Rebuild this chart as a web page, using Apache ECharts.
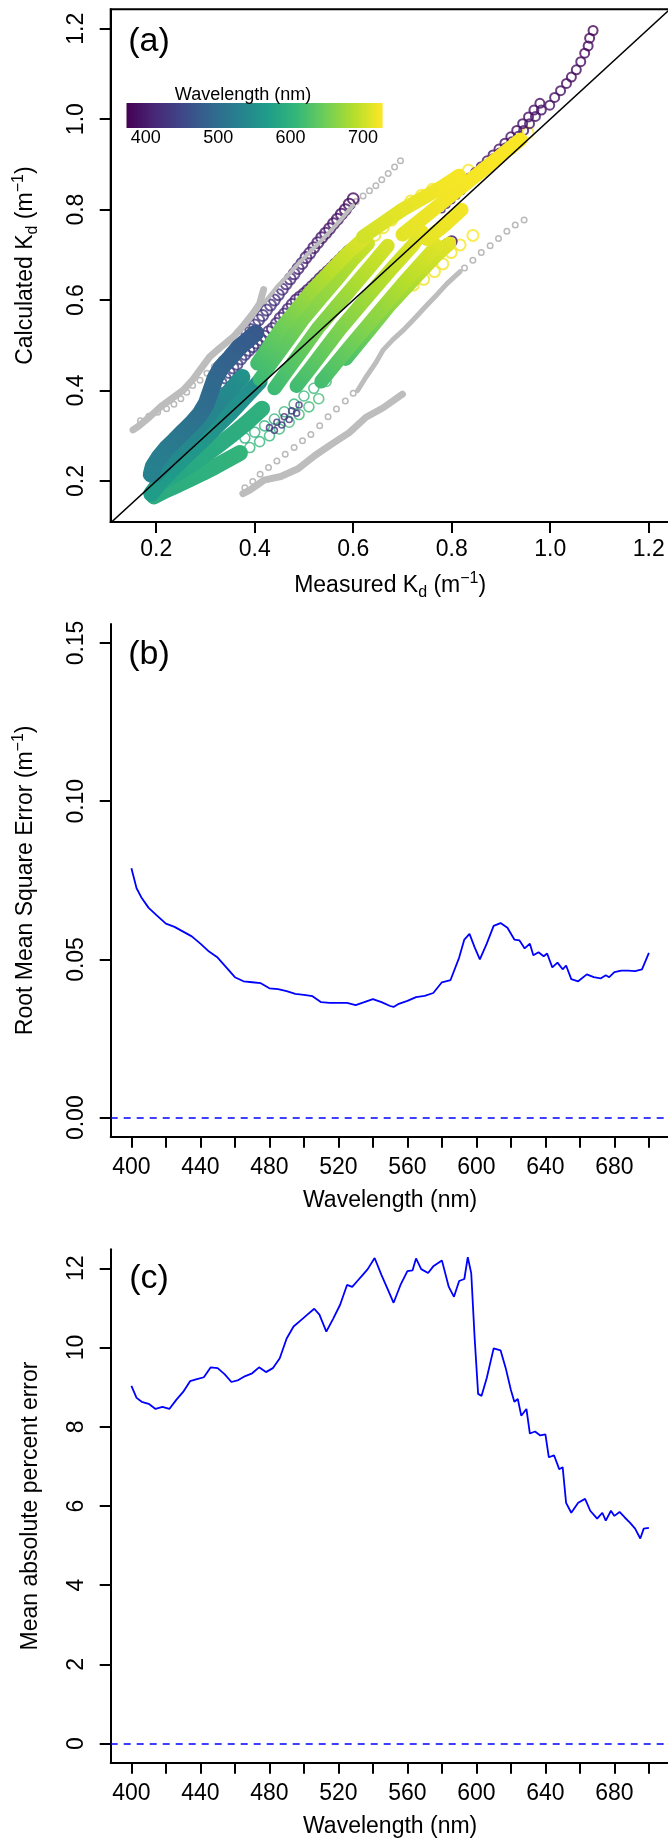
<!DOCTYPE html>
<html>
<head>
<meta charset="utf-8">
<script src="https://cdn.jsdelivr.net/npm/echarts@6/dist/echarts.min.js"></script>
<style>
  html, body { margin: 0; padding: 0; background: #fff; }
  #chart { width: 668px; height: 1841px; }
</style>
</head>
<body>
<div id="chart"></div>
<script>
// ---- panel (a): measured vs calculated Kd, coloured points are [wavelength, measured, calculated]
const kdTicks = [0.2, 0.4, 0.6, 0.8, 1.0, 1.2];
const identityLine = [[0.1, 0.1], [1.25, 1.25]];

// gray comparison data [measured, calculated]
const grayBandUpper = [[0.153,0.313],[0.165,0.322],[0.187,0.342],[0.21,0.365],[0.235,0.385],[0.255,0.401],[0.275,0.425],[0.292,0.45],[0.309,0.475],[0.33,0.495],[0.357,0.519],[0.378,0.545],[0.397,0.571],[0.41,0.592],[0.418,0.623]];
const grayBandMiddle = [[0.42,0.595],[0.445,0.629],[0.468,0.655],[0.488,0.68],[0.52,0.715],[0.549,0.747],[0.575,0.778],[0.6,0.81]];
const grayBandLower = [[0.376,0.172],[0.39,0.18],[0.402,0.189],[0.419,0.202],[0.453,0.21],[0.488,0.227],[0.523,0.257],[0.557,0.282],[0.592,0.307],[0.626,0.341],[0.661,0.362],[0.7,0.392]];
const grayBandRight = [[0.609,0.4],[0.626,0.43],[0.645,0.46],[0.661,0.49],[0.68,0.512],[0.704,0.536],[0.725,0.56],[0.748,0.587],[0.77,0.612],[0.791,0.637],[0.817,0.663]];
const grayDotsUpper = [[0.168,0.333],[0.185,0.343],[0.203,0.352],[0.221,0.36],[0.236,0.37],[0.25,0.382],[0.262,0.396],[0.274,0.411],[0.289,0.423],[0.303,0.438],[0.318,0.453],[0.333,0.469],[0.348,0.487],[0.363,0.506],
  [0.606,0.818],[0.62,0.83],[0.633,0.842],[0.646,0.853],[0.658,0.866],[0.671,0.88],[0.684,0.894],[0.696,0.908]];
const grayDotsLower = [[0.38,0.185],[0.396,0.199],[0.411,0.215],[0.428,0.23],[0.445,0.244],[0.462,0.259],[0.48,0.274],[0.497,0.289],[0.514,0.303],[0.532,0.322],[0.549,0.342],[0.566,0.359],[0.584,0.377],[0.6,0.394],
  [0.826,0.671],[0.843,0.688],[0.86,0.705],[0.878,0.72],[0.895,0.736],[0.912,0.752],[0.929,0.766],[0.947,0.777]];

// dense coloured stations (drawn as continuous bands)
const bandTealB = [[590,0.195,0.166],[592,0.22,0.18],[594,0.245,0.192],[596,0.27,0.205],[598,0.295,0.218],[600,0.32,0.232],[603,0.345,0.247],[606,0.37,0.262]];
const bandTealC = [[580,0.205,0.195],[582,0.235,0.212],[585,0.265,0.232],[588,0.295,0.254],[591,0.325,0.278],[594,0.355,0.303],[597,0.385,0.33],[600,0.415,0.36]];
const bandTealA = [[570,0.19,0.172],[567,0.21,0.2],[564,0.235,0.228],[561,0.26,0.255],[558,0.29,0.286],[555,0.32,0.318],[552,0.35,0.35],[550,0.38,0.385],[552,0.41,0.42]];
const bandTealD = [[545,0.2,0.215],[542,0.225,0.245],[540,0.25,0.275],[538,0.275,0.305],[536,0.3,0.335],[538,0.325,0.37],[545,0.35,0.4],[560,0.375,0.43]];
const bandBlue = [[470,0.402,0.527],[474,0.384,0.51],[478,0.367,0.494],[482,0.35,0.472],[486,0.332,0.451],[490,0.32,0.428],[494,0.311,0.4],[498,0.302,0.372],[503,0.289,0.348],[508,0.273,0.328],[513,0.256,0.31],[518,0.238,0.29],[523,0.221,0.272],[528,0.206,0.252],[532,0.194,0.232],[535,0.19,0.215]];
const stripA0 = [[615,0.405,0.46],[630,0.43,0.5],[645,0.455,0.54],[660,0.485,0.58],[675,0.515,0.62],[690,0.55,0.66],[702,0.585,0.7],[712,0.62,0.735]];
const stripA = [[610,0.41,0.425],[625,0.44,0.47],[640,0.47,0.515],[655,0.5,0.56],[668,0.535,0.605],[680,0.57,0.65],[692,0.6,0.69],[704,0.63,0.725]];
const stripB = [[612,0.44,0.405],[626,0.47,0.45],[640,0.5,0.495],[654,0.53,0.54],[668,0.565,0.585],[682,0.6,0.63],[696,0.635,0.675],[708,0.67,0.72]];
const stripC = [[614,0.485,0.41],[628,0.515,0.452],[642,0.545,0.495],[656,0.575,0.538],[670,0.61,0.583],[684,0.645,0.628],[698,0.68,0.672],[712,0.72,0.72],[720,0.74,0.75]];
const stripD = [[616,0.535,0.42],[630,0.565,0.46],[645,0.595,0.5],[660,0.63,0.545],[674,0.665,0.59],[688,0.7,0.635],[702,0.735,0.678],[714,0.77,0.72]];
const stripE = [[620,0.585,0.47],[636,0.615,0.51],[652,0.645,0.55],[666,0.675,0.59],[680,0.705,0.625],[694,0.735,0.66],[706,0.765,0.695],[716,0.795,0.725]];
const yellowBand1 = [[700,0.62,0.74],[708,0.66,0.77],[714,0.7,0.8],[718,0.74,0.825],[722,0.78,0.85],[724,0.815,0.875]];
const yellowBand2 = [[712,0.7,0.745],[716,0.74,0.78],[720,0.78,0.815],[722,0.82,0.85],[724,0.86,0.885],[725,0.9,0.92],[725,0.94,0.955]];
const yellowBand3 = [[714,0.75,0.735],[718,0.79,0.77],[722,0.82,0.8]];

// sparse coloured stations (open circles)
const openGreenA = [[600,0.35,0.25],[602,0.37,0.262],[604,0.39,0.274],[606,0.41,0.287],[608,0.43,0.3],[610,0.45,0.315],[612,0.47,0.33],[614,0.49,0.347],[616,0.51,0.364],[618,0.53,0.382]];
const openGreenB = [[596,0.38,0.295],[598,0.4,0.308],[600,0.42,0.322],[602,0.44,0.337],[604,0.46,0.353],[606,0.48,0.37],[608,0.5,0.388],[610,0.52,0.405],[612,0.545,0.42]];
const yellowOpenTop = [[725,0.834,0.887],[724,0.808,0.866],[724,0.787,0.853],[723,0.761,0.845],[722,0.739,0.832],[721,0.717,0.819],[720,0.696,0.798],[719,0.678,0.777],[718,0.661,0.76],[717,0.644,0.743],[716,0.626,0.722]];
const yellowOpenRight = [[725,0.843,0.743],[724,0.817,0.722],[723,0.799,0.705],[722,0.782,0.68],[721,0.765,0.663],[720,0.743,0.646],[719,0.722,0.633]];
const yellowOpenDiag = [[725,0.88,0.9],[725,0.9,0.92],[725,0.92,0.935],[725,0.94,0.955],[725,0.955,0.97]];
const purpleTopA = [[380,1.087,1.196],[381,1.08,1.179],[382,1.077,1.162],[383,1.07,1.146],[384,1.062,1.127],[385,1.053,1.109],[386,1.043,1.093],[387,1.033,1.079],[388,1.021,1.063],[389,1.009,1.048],[390,0.999,1.031],[391,0.982,1.02],[392,0.97,1.006],[393,0.958,0.99],[394,0.946,0.975],[395,0.935,0.962],[396,0.922,0.95],[397,0.91,0.937],[398,0.897,0.925],[399,0.885,0.913],[400,0.872,0.9],[401,0.86,0.888],[402,0.848,0.876],[403,0.836,0.865]];
const purpleTopB = [[385,0.979,1.035],[386,0.967,1.02],[387,0.956,1.005],[388,0.944,0.99],[389,0.932,0.975],[390,0.92,0.961],[391,0.908,0.947],[392,0.896,0.934],[393,0.884,0.921],[394,0.872,0.908],[395,0.86,0.895],[396,0.848,0.882],[397,0.836,0.87],[398,0.824,0.858]];
const purpleUpper = [[438,0.384,0.527],[436,0.392,0.535],[434,0.4,0.545],[432,0.408,0.556],[430,0.416,0.566],[428,0.424,0.578],[426,0.432,0.589],[424,0.44,0.6],[422,0.448,0.612],[420,0.456,0.624],[418,0.464,0.636],[416,0.472,0.647],[414,0.48,0.658],[412,0.488,0.67],[410,0.496,0.681],[408,0.504,0.694],[406,0.512,0.704],[404,0.52,0.716],[402,0.528,0.727],[400,0.536,0.738],[398,0.544,0.748],[396,0.552,0.758],[394,0.56,0.769],[392,0.568,0.779],[390,0.576,0.79],[388,0.584,0.8],[386,0.592,0.812],[384,0.6,0.824]];
const purpleLower = [[452,0.332,0.417],[448,0.34,0.428],[445,0.348,0.44],[442,0.356,0.45],[440,0.364,0.458],[438,0.372,0.47],[436,0.38,0.48],[434,0.388,0.489],[432,0.396,0.497],[430,0.404,0.505],[428,0.412,0.512],[426,0.42,0.52],[424,0.428,0.53],[422,0.436,0.537],[420,0.444,0.548],[418,0.452,0.56],[416,0.46,0.569],[414,0.468,0.58],[412,0.476,0.59],[410,0.484,0.6],[408,0.492,0.607],[406,0.5,0.614],[404,0.508,0.622],[402,0.516,0.63],[400,0.524,0.638],[398,0.532,0.647],[396,0.54,0.655],[394,0.548,0.663],[392,0.556,0.671],[390,0.564,0.68],[388,0.572,0.688],[386,0.58,0.697],[385,0.588,0.705],[384,0.592,0.709]];
const purpleShort = [[384,0.8,0.73],[386,0.791,0.724],[388,0.782,0.718],[390,0.773,0.709],[392,0.765,0.701],[394,0.756,0.692],[396,0.748,0.684],[398,0.739,0.674],[400,0.73,0.663],[402,0.722,0.652],[404,0.713,0.642]];
const purpleDots = [[428,0.43,0.318],[428,0.445,0.33],[428,0.46,0.342],[428,0.475,0.355],[428,0.49,0.368],[430,0.44,0.312],[430,0.455,0.324],[430,0.47,0.336],[430,0.485,0.35],
  [405,0.78,0.8],[404,0.79,0.81],[403,0.8,0.82],[402,0.81,0.83],[401,0.82,0.84],[400,0.83,0.852]];

// colour bar
const cbRange = [373.5, 727];
const cbTicks = [400, 500, 600, 700];
const viridis = ['#440154','#482878','#3e4989','#31688e','#26828e','#1f9e89','#35b779','#6ece58','#b5de2b','#fde725'];

// ---- panel (b): RMSE by wavelength
const rmseWl = [400,403,406,410,415,420,425,430,435,440,445,450,455,460,465,470,475,480,485,490,495,500,505,510,515,520,525,530,535,540,545,550,552,555,560,565,570,575,580,585,590,593,596,599,602,606,610,614,618,622,625,628,631,633,636,639,641,644,647,650,652,655,659,664,668,672,675,677,680,684,688,692,696,700];
const rmseVal = [0.0788,0.0725,0.0694,0.0663,0.0638,0.0613,0.0603,0.0588,0.0573,0.055,0.0525,0.0506,0.0475,0.0444,0.0431,0.0428,0.0425,0.0409,0.0406,0.04,0.0391,0.0388,0.0384,0.0365,0.0363,0.0363,0.0363,0.0356,0.0365,0.0375,0.0365,0.0353,0.035,0.036,0.0369,0.0381,0.0385,0.0394,0.0428,0.0435,0.0506,0.0563,0.0581,0.0538,0.05,0.055,0.0606,0.0615,0.06,0.0563,0.056,0.0535,0.055,0.0513,0.0523,0.051,0.0519,0.0475,0.049,0.0469,0.0481,0.0438,0.0431,0.0453,0.0444,0.044,0.045,0.0444,0.046,0.0465,0.0465,0.0463,0.0469,0.0521];
const rmseTicks = [0, 0.05, 0.1, 0.15];

// ---- panel (c): MAPE by wavelength
const mapeWl = [400,403,406,410,414,418,422,426,430,434,438,442,446,450,454,458,462,466,470,474,478,482,486,490,494,498,502,506,509,513,517,521,525,528,531,534,537,541,545,549,552,556,560,563,565,568,572,575,580,584,587,590,593,595,597,599,601,603,606,610,614,617,620,622,624,626,629,631,634,637,640,642,645,648,650,652,655,659,663,666,670,673,675,678,680,683,686,689,692,695,697,700];
const mapeVal = [9.03,8.73,8.63,8.58,8.45,8.5,8.45,8.68,8.88,9.15,9.2,9.25,9.5,9.48,9.33,9.13,9.18,9.28,9.35,9.5,9.38,9.48,9.73,10.23,10.53,10.68,10.83,10.98,10.83,10.4,10.73,11.08,11.58,11.53,11.68,11.83,11.98,12.26,11.83,11.43,11.13,11.58,11.93,11.95,12.25,11.98,11.88,12.05,12.2,11.53,11.28,11.68,11.73,12.28,11.88,10.23,8.83,8.78,9.23,9.98,9.93,9.48,8.93,8.63,8.7,8.28,8.45,7.83,7.88,7.78,7.81,7.23,7.28,6.93,6.98,6.08,5.83,6.08,6.18,5.88,5.68,5.83,5.63,5.88,5.75,5.85,5.71,5.58,5.43,5.18,5.43,5.45];
const mapeTicks = [0, 2, 4, 6, 8, 10, 12];

const wlTicks = [400,420,440,460,480,500,520,540,560,580,600,620,640,660,680,700];
const wlLabels = [400,440,480,520,560,600,640,680];

const FONT = '"Liberation Sans", Arial, Helvetica, sans-serif';

function wlColor(wl) {
  const t = (wl - cbRange[0]) / (cbRange[1] - cbRange[0]);
  return echarts.color.lerp(Math.max(0, Math.min(1, t)), viridis);
}

function colourTrack(track, size, filled, stroke) {
  return {
    type: 'scatter', xAxisIndex: 0, yAxisIndex: 0, symbol: 'circle', symbolSize: size, silent: true,
    data: track.map(p => {
      const c = wlColor(p[0]);
      return {
        value: [p[1], p[2]],
        itemStyle: filled
          ? { color: c, borderColor: c, borderWidth: 0 }
          : { color: 'rgba(0,0,0,0)', borderColor: c, borderWidth: stroke || 1.8 }
      };
    })
  };
}

// a dense station drawn as a thick band, coloured along its length by wavelength
function colourBand(track, width) {
  const xs = track.map(p => p[1]), ys = track.map(p => p[2]);
  const x0 = Math.min(...xs), x1 = Math.max(...xs), y0 = Math.min(...ys), y1 = Math.max(...ys);
  const stops = track.map(p => ({
    offset: ((p[1] - x0) / ((x1 - x0) || 1) + (p[2] - y0) / ((y1 - y0) || 1)) / 2,
    color: wlColor(p[0])
  })).sort((a, b) => a.offset - b.offset);
  return {
    type: 'line', xAxisIndex: 0, yAxisIndex: 0, data: track.map(p => [p[1], p[2]]), showSymbol: false, silent: true,
    lineStyle: { width: width, cap: 'round', join: 'round', color: new echarts.graphic.LinearGradient(0, 1, 1, 0, stops) }
  };
}

function grayBand(band, width) {
  return {
    type: 'line', xAxisIndex: 0, yAxisIndex: 0, data: band, showSymbol: false, silent: true,
    lineStyle: { color: '#bdbdbd', width: width, cap: 'round', join: 'round' }
  };
}

function grayDots(dots) {
  return {
    type: 'scatter', xAxisIndex: 0, yAxisIndex: 0, data: dots, symbol: 'circle', symbolSize: 5.5, silent: true,
    itemStyle: { color: 'rgba(0,0,0,0)', borderColor: '#a9a9a9', borderWidth: 1.5 }
  };
}

const axisText = { fontSize: 23, color: '#000', fontFamily: FONT };
const richName = {
  t: { fontSize: 23, lineHeight: 30, verticalAlign: 'middle', fontFamily: FONT, color: '#000' },
  s: { fontSize: 16, lineHeight: 16, verticalAlign: 'bottom', fontFamily: FONT, color: '#000' },
  p: { fontSize: 16, lineHeight: 16, verticalAlign: 'top', fontFamily: FONT, color: '#000' }
};

function xAxisDef(gridIndex, min, max, ticks, labels, fmt, name, margin) {
  return {
    gridIndex: gridIndex, type: 'value', min: min, max: max,
    axisLine: { show: true, onZero: false, lineStyle: { color: '#000', width: 2 } },
    axisTick: { show: true, inside: false, length: 11, lineStyle: { color: '#000', width: 2 }, customValues: ticks },
    axisLabel: Object.assign({ customValues: labels, formatter: fmt, margin: margin }, axisText),
    splitLine: { show: false },
    name: name, nameLocation: 'middle', nameGap: 49, nameMoveOverlap: false,
    nameTextStyle: { rich: richName, fontSize: 23, fontFamily: FONT, color: '#000' }
  };
}

function yAxisDef(gridIndex, min, max, ticks, fmt, name, gap) {
  return {
    gridIndex: gridIndex, type: 'value', min: min, max: max,
    axisLine: { show: true, onZero: false, lineStyle: { color: '#000', width: 2 } },
    axisTick: { show: true, inside: false, length: 11, lineStyle: { color: '#000', width: 2 }, customValues: ticks },
    axisLabel: Object.assign({ customValues: ticks, formatter: fmt, rotate: 90, margin: 23 }, axisText),
    splitLine: { show: false },
    name: name, nameLocation: 'middle', nameRotate: 90, nameGap: gap, nameMoveOverlap: false,
    nameTextStyle: { rich: richName, fontSize: 23, fontFamily: FONT, color: '#000' }
  };
}

const chart = echarts.init(document.getElementById('chart'), null, { renderer: 'canvas' });

const cbBox = { x: 126.5, y: 103, width: 256.1, height: 25 };
const cbX = wl => cbBox.x + (wl - cbRange[0]) / (cbRange[1] - cbRange[0]) * cbBox.width;

const graphics = [
  { type: 'rect', shape: cbBox, style: { fill: new echarts.graphic.LinearGradient(0, 0, 1, 0, viridis.map((c, i) => ({ offset: i / (viridis.length - 1), color: c }))) }, z: 100 },
  { type: 'text', x: 243, y: 95, style: { text: 'Wavelength (nm)', font: '18px ' + FONT, fill: '#000', textAlign: 'center', textVerticalAlign: 'middle' }, z: 100 }
].concat(cbTicks.map(v => ({
  type: 'text', x: cbX(v), y: 138, style: { text: String(v), font: '18px ' + FONT, fill: '#000', textAlign: 'center', textVerticalAlign: 'middle' }, z: 100
}))).concat([
  { type: 'text', x: 149, y: 42, style: { text: '(a)', font: '34px ' + FONT, fill: '#000', textAlign: 'center', textVerticalAlign: 'middle' }, z: 100 },
  { type: 'text', x: 149, y: 655, style: { text: '(b)', font: '34px ' + FONT, fill: '#000', textAlign: 'center', textVerticalAlign: 'middle' }, z: 100 },
  { type: 'text', x: 149, y: 1279, style: { text: '(c)', font: '34px ' + FONT, fill: '#000', textAlign: 'center', textVerticalAlign: 'middle' }, z: 100 }
]);

const option = {
  animation: false,
  backgroundColor: '#fff',
  textStyle: { fontFamily: FONT },
  grid: [
    { left: 110.7, top: 9.3, width: 558.9, height: 512.7, show: true, borderColor: '#000', borderWidth: 2, backgroundColor: 'transparent', outerBoundsMode: 'none', containLabel: false },
    { left: 110.7, top: 624, width: 558.9, height: 512.7, outerBoundsMode: 'none', containLabel: false },
    { left: 110.7, top: 1249.3, width: 558.9, height: 513.4, outerBoundsMode: 'none', containLabel: false }
  ],
  xAxis: [
    xAxisDef(0, 0.1076, 1.2424, kdTicks, kdTicks, v => v.toFixed(1), '{t|Measured K}{s|d}{t| (m}{p|−1}{t|)}', 16),
    xAxisDef(1, 388, 712, wlTicks, wlLabels, v => String(v), '{t|Wavelength (nm)}', 19),
    xAxisDef(2, 388, 712, wlTicks, wlLabels, v => String(v), '{t|Wavelength (nm)}', 19)
  ],
  yAxis: [
    yAxisDef(0, 0.1094, 1.2429, kdTicks, v => v.toFixed(1), '{t|Calculated K}{s|d}{t| (m}{p|−1}{t|)}', 70),
    yAxisDef(1, -0.006, 0.156, rmseTicks, v => v.toFixed(2), '{t|Root Mean Square Error (m}{p|−1}{t|)}', 70),
    yAxisDef(2, -0.48, 12.48, mapeTicks, v => String(v), '{t|Mean absolute percent error}', 65)
  ],
  graphic: graphics,
  series: [
    grayBand(grayBandUpper, 7),
    grayBand(grayBandMiddle, 4),
    grayBand(grayBandLower, 7),
    grayBand(grayBandRight, 5),
    grayDots(grayDotsUpper),
    grayDots(grayDotsLower),
    colourBand(bandTealB, 16),
    colourBand(bandTealC, 16),
    colourBand(bandTealA, 16),
    colourBand(bandTealD, 16),
    colourBand(bandBlue, 17),
    colourBand(stripE, 14),
    colourBand(stripD, 14),
    colourBand(stripC, 14),
    colourBand(stripB, 14),
    colourBand(stripA, 14),
    colourBand(stripA0, 14),
    colourBand(yellowBand3, 14),
    colourBand(yellowBand2, 14),
    colourBand(yellowBand1, 14),
    colourTrack(openGreenA, 10, false, 1.6),
    colourTrack(openGreenB, 10, false, 1.6),
    colourTrack(yellowOpenTop, 11, false, 2),
    colourTrack(yellowOpenRight, 11, false, 2),
    colourTrack(yellowOpenDiag, 11, false, 2),
    colourTrack(purpleDots, 6, false, 1.6),
    colourTrack(purpleShort, 10, false, 2),
    colourTrack(purpleLower, 11, false, 2),
    colourTrack(purpleUpper, 11, false, 2),
    colourTrack(purpleTopB, 9, false, 2),
    colourTrack(purpleTopA, 9, false, 2),
    {
      type: 'line', xAxisIndex: 0, yAxisIndex: 0, data: identityLine, showSymbol: false, silent: true, clip: true, z: 10,
      lineStyle: { color: '#000', width: 1.5 }
    },
    {
      type: 'line', xAxisIndex: 1, yAxisIndex: 1, data: rmseWl.map((w, i) => [w, rmseVal[i]]), showSymbol: false, silent: true,
      lineStyle: { color: '#0000ff', width: 1.8 },
      markLine: { silent: true, symbol: ['none', 'none'], label: { show: false }, lineStyle: { color: '#0000ff', type: [7, 6], width: 1.6 }, data: [{ yAxis: 0 }] }
    },
    {
      type: 'line', xAxisIndex: 2, yAxisIndex: 2, data: mapeWl.map((w, i) => [w, mapeVal[i]]), showSymbol: false, silent: true,
      lineStyle: { color: '#0000ff', width: 1.8 },
      markLine: { silent: true, symbol: ['none', 'none'], label: { show: false }, lineStyle: { color: '#0000ff', type: [7, 6], width: 1.6 }, data: [{ yAxis: 0 }] }
    }
  ]
};

chart.setOption(option);
</script>
</body>
</html>
